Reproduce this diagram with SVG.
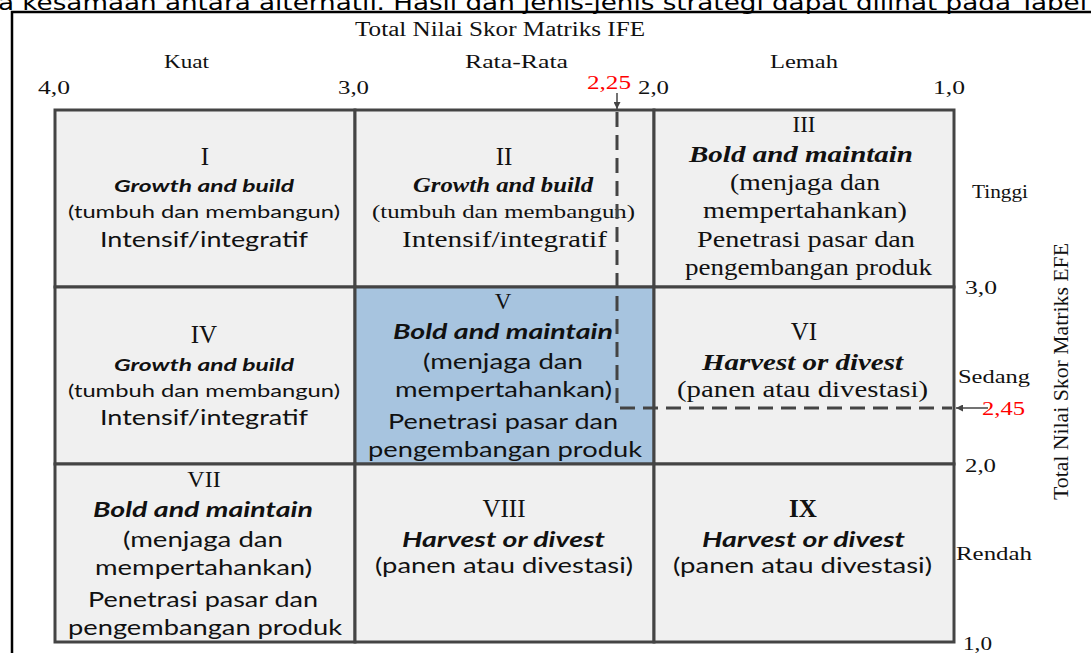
<svg xmlns="http://www.w3.org/2000/svg" width="1091" height="653" viewBox="0 0 1091 653">
<style>
.cell{fill:#f0f0f0;stroke:#444;stroke-width:3}
.hl{fill:#a7c4df}
.tr{font-family:"Liberation Serif","Times New Roman",serif;fill:#111}
.ca{font-family:Lato,"Open Sans",sans-serif;fill:#111}
.bi{font-weight:bold;font-style:italic}
.red{fill:#ff0000}
.mid{text-anchor:middle}
.dash{fill:none;stroke:#444;stroke-width:3;stroke-dasharray:15 8}
.arr{fill:none;stroke:#444;stroke-width:1.5}
</style>
<defs>
<marker id="ah" viewBox="0 0 10 10" refX="10" refY="5" markerWidth="7" markerHeight="7" orient="auto" markerUnits="userSpaceOnUse">
<path d="M0,0 L10,5 L0,10 z" fill="#444"/>
</marker>
</defs>
<rect width="1091" height="653" fill="#fff"/>
<text x="-2" y="10" font-family="'DejaVu Sans',Verdana,sans-serif" font-size="21" fill="#000" textLength="1089" lengthAdjust="spacingAndGlyphs">a kesamaan antara alternatif. Hasil dan jenis-jenis strategi dapat dilihat pada Tabel</text>
<rect x="12" y="12" width="2000" height="2000" fill="none" stroke="#000" stroke-width="2.5"/>

<g id="axis-ife">
<text class="tr" x="355" y="36" font-size="20" textLength="290" lengthAdjust="spacingAndGlyphs">Total Nilai Skor Matriks IFE</text>
<text class="tr" x="164" y="68" font-size="18" textLength="45" lengthAdjust="spacingAndGlyphs">Kuat</text>
<text class="tr" x="465" y="68" font-size="18" textLength="103" lengthAdjust="spacingAndGlyphs">Rata-Rata</text>
<text class="tr" x="770" y="68" font-size="18" textLength="68" lengthAdjust="spacingAndGlyphs">Lemah</text>
<text class="tr" x="38" y="94" font-size="19" textLength="32" lengthAdjust="spacingAndGlyphs">4,0</text>
<text class="tr" x="338" y="94" font-size="19" textLength="31" lengthAdjust="spacingAndGlyphs">3,0</text>
<text class="tr" x="638" y="94" font-size="19" textLength="31" lengthAdjust="spacingAndGlyphs">2,0</text>
<text class="tr" x="933" y="94" font-size="19" textLength="32" lengthAdjust="spacingAndGlyphs">1,0</text>
<text class="tr red" x="587" y="89" font-size="19" textLength="44" lengthAdjust="spacingAndGlyphs">2,25</text>
</g>

<g id="axis-efe">
<text class="tr" x="972" y="198" font-size="19" textLength="56" lengthAdjust="spacingAndGlyphs">Tinggi</text>
<text class="tr" x="965" y="294" font-size="19" textLength="32" lengthAdjust="spacingAndGlyphs">3,0</text>
<text class="tr" x="958" y="383" font-size="19" textLength="72" lengthAdjust="spacingAndGlyphs">Sedang</text>
<text class="tr" x="965" y="472" font-size="19" textLength="31" lengthAdjust="spacingAndGlyphs">2,0</text>
<text class="tr" x="956" y="560" font-size="19" textLength="76" lengthAdjust="spacingAndGlyphs">Rendah</text>
<text class="tr" x="963" y="650" font-size="19" textLength="29" lengthAdjust="spacingAndGlyphs">1,0</text>
<text class="tr red" x="982" y="415" font-size="19" textLength="43" lengthAdjust="spacingAndGlyphs">2,45</text>
<text class="tr" transform="translate(1068,500) rotate(-90)" font-size="21" textLength="257" lengthAdjust="spacingAndGlyphs">Total Nilai Skor Matriks EFE</text>
</g>

<g id="cell-I">
<rect class="cell" x="55" y="110" width="300" height="177"/>
<text class="tr mid" x="205" y="165" font-size="25">I</text>
<text class="ca bi" x="114" y="192" font-size="17" textLength="180" lengthAdjust="spacingAndGlyphs">Growth and build</text>
<text class="ca" x="68" y="218" font-size="18" textLength="272" lengthAdjust="spacingAndGlyphs">(tumbuh dan membangun)</text>
<text class="ca" x="100" y="247" font-size="21" textLength="208" lengthAdjust="spacingAndGlyphs">Intensif/integratif</text>
</g>

<g id="cell-II">
<rect class="cell" x="355" y="110" width="299" height="177"/>
<text class="tr mid" x="504" y="165" font-size="25">II</text>
<text class="tr bi" x="413" y="192" font-size="20" textLength="180" lengthAdjust="spacingAndGlyphs">Growth and build</text>
<text class="tr" x="372" y="218" font-size="19" textLength="263" lengthAdjust="spacingAndGlyphs">(tumbuh dan membangun)</text>
<text class="tr" x="402" y="247" font-size="24" textLength="205" lengthAdjust="spacingAndGlyphs">Intensif/integratif</text>
</g>

<g id="cell-III">
<rect class="cell" x="654" y="110" width="300" height="177"/>
<text class="tr mid" x="804" y="132" font-size="23">III</text>
<text class="tr bi" x="689" y="162" font-size="23" textLength="224" lengthAdjust="spacingAndGlyphs">Bold and maintain</text>
<text class="tr" x="730" y="190" font-size="23" textLength="150" lengthAdjust="spacingAndGlyphs">(menjaga dan</text>
<text class="tr" x="703" y="218" font-size="23" textLength="204" lengthAdjust="spacingAndGlyphs">mempertahankan)</text>
<text class="tr" x="697" y="247" font-size="23" textLength="218" lengthAdjust="spacingAndGlyphs">Penetrasi pasar dan</text>
<text class="tr" x="685" y="275" font-size="23" textLength="247" lengthAdjust="spacingAndGlyphs">pengembangan produk</text>
</g>

<g id="cell-IV">
<rect class="cell" x="55" y="287" width="300" height="177"/>
<text class="tr mid" x="204" y="343" font-size="25">IV</text>
<text class="ca bi" x="114" y="371" font-size="17" textLength="180" lengthAdjust="spacingAndGlyphs">Growth and build</text>
<text class="ca" x="68" y="397" font-size="18" textLength="272" lengthAdjust="spacingAndGlyphs">(tumbuh dan membangun)</text>
<text class="ca" x="100" y="425" font-size="21" textLength="208" lengthAdjust="spacingAndGlyphs">Intensif/integratif</text>
</g>

<g id="cell-V">
<rect class="cell hl" x="355" y="287" width="299" height="177"/>
<text class="tr mid" x="503" y="309" font-size="23">V</text>
<text class="ca bi" x="393" y="339" font-size="21" textLength="220" lengthAdjust="spacingAndGlyphs">Bold and maintain</text>
<text class="ca" x="423" y="369" font-size="21" textLength="160" lengthAdjust="spacingAndGlyphs">(menjaga dan</text>
<text class="ca" x="395" y="397" font-size="21" textLength="217" lengthAdjust="spacingAndGlyphs">mempertahankan)</text>
<text class="ca" x="388" y="429" font-size="21" textLength="230" lengthAdjust="spacingAndGlyphs">Penetrasi pasar dan</text>
<text class="ca" x="368" y="457" font-size="21" textLength="274" lengthAdjust="spacingAndGlyphs">pengembangan produk</text>
</g>

<g id="cell-VI">
<rect class="cell" x="654" y="287" width="300" height="177"/>
<text class="tr mid" x="804" y="340" font-size="25">VI</text>
<text class="tr bi" x="702" y="370" font-size="23" textLength="201" lengthAdjust="spacingAndGlyphs">Harvest or divest</text>
<text class="tr" x="677" y="397" font-size="23" textLength="251" lengthAdjust="spacingAndGlyphs">(panen atau divestasi)</text>
</g>

<g id="cell-VII">
<rect class="cell" x="55" y="464" width="300" height="178"/>
<text class="tr mid" x="204" y="487" font-size="24">VII</text>
<text class="ca bi" x="93" y="517" font-size="21" textLength="220" lengthAdjust="spacingAndGlyphs">Bold and maintain</text>
<text class="ca" x="123" y="547" font-size="21" textLength="160" lengthAdjust="spacingAndGlyphs">(menjaga dan</text>
<text class="ca" x="95" y="575" font-size="21" textLength="217" lengthAdjust="spacingAndGlyphs">mempertahankan)</text>
<text class="ca" x="88" y="607" font-size="21" textLength="230" lengthAdjust="spacingAndGlyphs">Penetrasi pasar dan</text>
<text class="ca" x="68" y="635" font-size="21" textLength="274" lengthAdjust="spacingAndGlyphs">pengembangan produk</text>
</g>

<g id="cell-VIII">
<rect class="cell" x="355" y="464" width="299" height="178"/>
<text class="tr mid" x="504" y="517" font-size="25">VIII</text>
<text class="ca bi" x="402" y="547" font-size="21" textLength="203" lengthAdjust="spacingAndGlyphs">Harvest or divest</text>
<text class="ca" x="375" y="573" font-size="21" textLength="258" lengthAdjust="spacingAndGlyphs">(panen atau divestasi)</text>
</g>

<g id="cell-IX">
<rect class="cell" x="654" y="464" width="300" height="178"/>
<text class="tr mid" x="803" y="517" font-size="25" font-weight="bold">IX</text>
<text class="ca bi" x="702" y="547" font-size="21" textLength="203" lengthAdjust="spacingAndGlyphs">Harvest or divest</text>
<text class="ca" x="673" y="573" font-size="21" textLength="259" lengthAdjust="spacingAndGlyphs">(panen atau divestasi)</text>
</g>

<g id="connectors">
<polyline class="dash" points="617,112 617,408 952,408"/>
<line class="arr" x1="617" y1="93" x2="617" y2="109" marker-end="url(#ah)"/>
<line class="arr" x1="988" y1="408" x2="956" y2="408" marker-end="url(#ah)"/>
</g>
</svg>
